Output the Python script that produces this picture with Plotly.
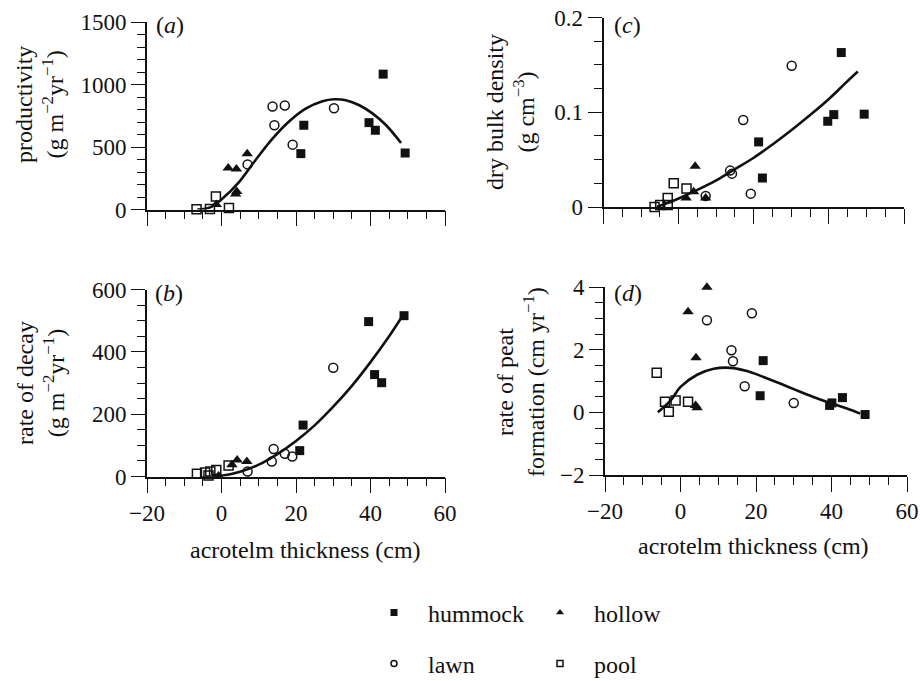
import plotly.graph_objects as go

W, H = 920, 681
OFF = 0  # body margin removed via post_script, so paper pixels == screen pixels

# ---------------- data ----------------
# (a) productivity (g m-2 yr-1)
a_hum_x = [43.4, 22.1, 21.3, 39.6, 41.3, 49.3]
a_hum_y = [1083, 674, 447, 695, 634, 452]
a_lawn_x = [13.7, 17.0, 14.2, 19.1, 7.0, 30.2]
a_lawn_y = [824, 832, 674, 519, 361, 810]
a_hol_x = [6.9, 1.8, 4.0, 4.1, 3.8, -1.4]
a_hol_y = [447, 332, 324, 144, 125, 40]
a_pool_x = [-6.7, -3.1, -1.5, 2.0]
a_pool_y = [3, 5, 104, 12]
a_fit_x = [-6.5, -2.9, 0.2, 4.7, 9.2, 13.7, 18.2, 22.6, 27.1, 30.2, 33.4, 37.0, 40.6, 44.2, 48.2]
a_fit_y = [0, 19, 86, 219, 398, 567, 706, 807, 866, 882, 874, 834, 767, 674, 532]

# (b) rate of decay (g m-2 yr-1)
b_hum_x = [49.0, 39.5, 41.1, 43.0, 21.9, 21.0]
b_hum_y = [516, 497, 327, 301, 165, 83]
b_lawn_x = [30.0, 14.0, 13.5, 17.0, 19.0, 7.0]
b_lawn_y = [349, 88, 48, 73, 64, 16]
b_hol_x = [4.2, 6.8, 2.8, -0.8]
b_hol_y = [53, 48, 38, 2]
b_pool_x = [-6.6, -4.4, -3.0, -1.4, 1.9, -3.5]
b_pool_y = [9, 13, 16, 21, 35, 3]
b_fit_x = [-2.6, 0, 5, 10, 15, 20, 25, 30, 35, 40, 45, 49]
b_fit_y = [0, 2, 15, 38, 72, 114, 164, 224, 291, 367, 450, 523]

# (c) dry bulk density (g cm-3)
c_hum_x = [43.3, 49.4, 41.3, 39.7, 21.3, 22.3]
c_hum_y = [0.163, 0.098, 0.0975, 0.0905, 0.0687, 0.0306]
c_lawn_x = [30.1, 17.2, 19.2, 13.7, 14.2, 7.2]
c_lawn_y = [0.149, 0.0919, 0.0141, 0.0384, 0.0352, 0.0116]
c_hol_x = [4.4, 2.0, 7.2, 4.0]
c_hol_y = [0.043, 0.0095, 0.0095, 0.016]
c_pool_x = [-6.4, -4.9, -2.9, -2.9, -1.3, 2.1]
c_pool_y = [0.0, 0.002, 0.0095, 0.002, 0.025, 0.0194]
c_fit_x = [-5.8, 0, 5, 10, 15, 20, 25, 30, 35, 40, 45, 47.7]
c_fit_y = [0.0, 0.009, 0.018, 0.028, 0.040, 0.052, 0.066, 0.081, 0.097, 0.114, 0.133, 0.143]

# (d) rate of peat formation (cm yr-1)
d_hum_x = [21.9, 21.1, 39.5, 40.1, 42.9, 48.9]
d_hum_y = [1.65, 0.53, 0.22, 0.30, 0.47, -0.07]
d_lawn_x = [7.0, 18.9, 13.5, 13.9, 17.0, 30.0]
d_lawn_y = [2.94, 3.16, 1.98, 1.63, 0.83, 0.30]
d_hol_x = [7.0, 2.0, 4.1, 4.4, 4.0]
d_hol_y = [3.99, 3.21, 1.74, 0.15, 0.22]
d_pool_x = [-6.3, -4.1, -3.1, -1.3, 2.0]
d_pool_y = [1.26, 0.34, 0.02, 0.38, 0.34]
d_fit_x = [-6.0, -2.6, 0.0, 4.4, 8.8, 13.2, 17.6, 22.0, 26.4, 30.8, 35.2, 39.6, 44.1, 47.6]
d_fit_y = [0.0, 0.38, 0.81, 1.2, 1.39, 1.42, 1.32, 1.13, 0.92, 0.70, 0.49, 0.30, 0.12, -0.04]

x_tickvals = [-20, 0, 20, 40, 60]
categories = ["hummock", "hollow", "lawn", "pool"]

FONT = "Liberation Serif, Times New Roman, Times, serif"
BLACK = "#111111"
TICK_SIZE = 23
TITLE_SIZE = 24

MARKERS = {
    "hummock": dict(symbol="square", color=BLACK, line=dict(width=0)),
    "hollow": dict(symbol="triangle-up", color=BLACK, line=dict(width=0)),
    "lawn": dict(symbol="circle-open", color=BLACK, line=dict(width=1.5)),
    "pool": dict(symbol="square-open", color=BLACK, line=dict(width=1.5)),
}
PLOT_SIZE = {"hummock": 9, "hollow": 10, "lawn": 9, "pool": 9}
LEG_SIZE = {"hummock": 7, "hollow": 7, "lawn": 6, "pool": 6}

fig = go.Figure()

def fx_(p):
    return (p - OFF) / W

def fy_(p):
    return 1 - (p - OFF) / H

def dom_x(p0, p1):
    return [fx_(p0), fx_(p1)]

def dom_y(p_bottom, p_top):
    return [fy_(p_bottom), fy_(p_top)]

panels = [
    ("x", "y", (a_hum_x, a_hum_y, a_hol_x, a_hol_y, a_lawn_x, a_lawn_y, a_pool_x, a_pool_y, a_fit_x, a_fit_y),
     dom_x(147, 445), dom_y(209.5, 22), [0, 1500], 500, 100, False),
    ("x2", "y2", (b_hum_x, b_hum_y, b_hol_x, b_hol_y, b_lawn_x, b_lawn_y, b_pool_x, b_pool_y, b_fit_x, b_fit_y),
     dom_x(147, 445), dom_y(476.5, 289.5), [0, 600], 200, 50, True),
    ("x3", "y3", (c_hum_x, c_hum_y, c_hol_x, c_hol_y, c_lawn_x, c_lawn_y, c_pool_x, c_pool_y, c_fit_x, c_fit_y),
     dom_x(603.5, 904), dom_y(207, 17.5), [0, 0.2], 0.1, 0.025, False),
    ("x4", "y4", (d_hum_x, d_hum_y, d_hol_x, d_hol_y, d_lawn_x, d_lawn_y, d_pool_x, d_pool_y, d_fit_x, d_fit_y),
     dom_x(605, 907), dom_y(475, 287), [-2, 4], 2, 0.5, True),
]

for xa, ya, data, xd, yd, yr, ymaj, ymin, showx in panels:
    hx, hy, ox, oy, lx, ly, px, py, fx, fy = data
    fig.add_trace(go.Scatter(x=fx, y=fy, mode="lines",
                             line=dict(color=BLACK, width=2.6, shape="spline", smoothing=1.0),
                             xaxis=xa, yaxis=ya, showlegend=False, cliponaxis=False, hoverinfo="skip"))
    for cat, xs, ys in (("hummock", hx, hy), ("hollow", ox, oy), ("lawn", lx, ly), ("pool", px, py)):
        fig.add_trace(go.Scatter(x=xs, y=ys, mode="markers", name=cat,
                                 marker=dict(size=PLOT_SIZE[cat], **MARKERS[cat]),
                                 xaxis=xa, yaxis=ya, showlegend=False, cliponaxis=False))

    xkey = "xaxis" if xa == "x" else "xaxis" + xa[1:]
    ykey = "yaxis" if ya == "y" else "yaxis" + ya[1:]
    fig.update_layout({
        xkey: dict(domain=xd, anchor=ya, range=[-20, 60], tickvals=x_tickvals,
                   showline=True, linecolor=BLACK, linewidth=1.6, ticks="outside", ticklen=15, tickwidth=1.4,
                   tickcolor=BLACK, showgrid=False, zeroline=False, showticklabels=showx,
                   ticklabeloverflow="allow",
                   tickfont=dict(family=FONT, size=TICK_SIZE, color=BLACK),
                   minor=dict(dtick=5, tick0=0, ticks="outside", ticklen=8, tickwidth=1.2,
                              tickcolor=BLACK, showgrid=False)),
        ykey: dict(domain=yd, anchor=xa, range=yr, dtick=ymaj, tick0=0,
                   showline=True, linecolor=BLACK, linewidth=1.6, ticks="outside", ticklen=14, tickwidth=1.4,
                   tickcolor=BLACK, showgrid=False, zeroline=False,
                   ticklabeloverflow="allow",
                   tickfont=dict(family=FONT, size=TICK_SIZE, color=BLACK),
                   minor=dict(dtick=ymin, tick0=0, ticks="outside", ticklen=8, tickwidth=1.2,
                              tickcolor=BLACK, showgrid=False)),
    })

# legend-only traces (small symbols as in the reference key)
legend_ids = {"hummock": "legend", "hollow": "legend2", "lawn": "legend3", "pool": "legend4"}
for cat in categories:
    fig.add_trace(go.Scatter(x=[None], y=[None], mode="markers", name=cat, legend=legend_ids[cat],
                             marker=dict(size=LEG_SIZE[cat], **MARKERS[cat]), showlegend=True))

def ann(text, px, py, angle=0, size=TITLE_SIZE):
    fig.add_annotation(text=text, x=fx_(px), y=fy_(py), xref="paper", yref="paper",
                       showarrow=False, textangle=angle, xanchor="center", yanchor="middle",
                       font=dict(family=FONT, size=size, color=BLACK))

# panel labels
ann("(<i>a</i>)", 170, 25)
ann("(<i>b</i>)", 169, 293)
ann("(<i>c</i>)", 627, 25)
ann("(<i>d</i>)", 628, 293)

# y-axis titles
ann("productivity<br>(g m<sup>−2</sup>yr<sup>−1</sup>)", 40, 105, angle=-90)
ann("rate of decay<br>(g m<sup>−2</sup>yr<sup>−1</sup>)", 40, 383, angle=-90)
ann("dry bulk density<br>(g cm<sup>−3</sup>)", 511, 112, angle=-90)
ann("rate of peat<br>formation (cm yr<sup>−1</sup>)", 520, 382, angle=-90)

# x-axis titles
ann("acrotelm thickness (cm)", 305, 550)
ann("acrotelm thickness (cm)", 753, 546)

def leg(px, py):
    return dict(x=fx_(px), y=fy_(py), xanchor="left", yanchor="middle", bgcolor="rgba(0,0,0,0)",
                itemwidth=58, font=dict(family=FONT, size=TITLE_SIZE, color=BLACK), itemsizing="trace")

fig.update_layout(
    width=W, height=H,
    margin=dict(l=0, r=0, t=0, b=0, autoexpand=False),
    paper_bgcolor="white", plot_bgcolor="white",
    font=dict(family=FONT, size=TITLE_SIZE, color=BLACK),
    legend=leg(360, 613), legend2=leg(526, 613),
    legend3=leg(360, 664), legend4=leg(526, 664),
)

fig.write_html("out.html", config={"displayModeBar": False},
               post_script="document.body.style.margin='0';document.body.style.overflow='hidden';")
